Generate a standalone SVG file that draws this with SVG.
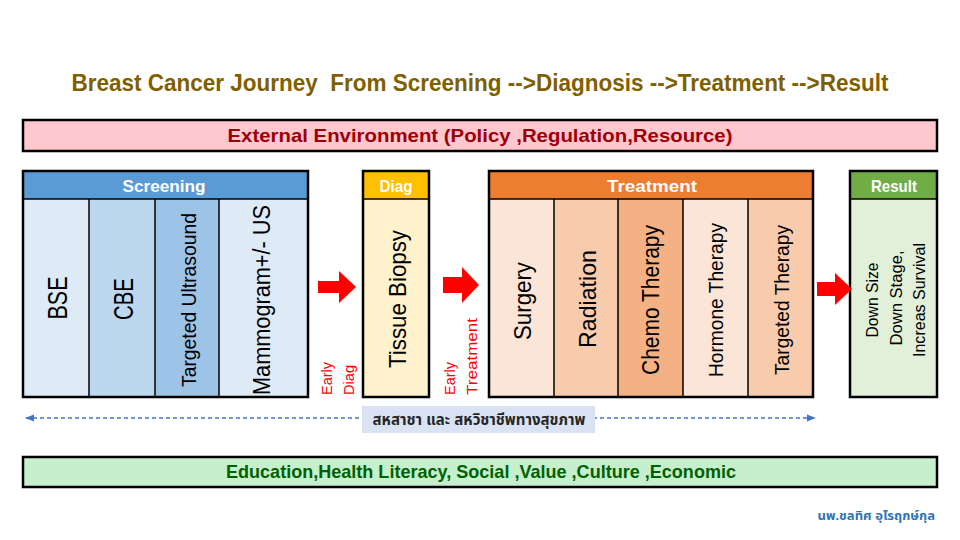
<svg xmlns="http://www.w3.org/2000/svg" width="960" height="540" viewBox="0 0 960 540">
<defs>
<style>
text{font-family:"Liberation Sans","Noto Sans","Noto Sans Thai",sans-serif;}
.box{stroke:#000;stroke-width:2.5;}
.div{stroke:#000;stroke-width:1.5;}
.hdr{fill:#fff;font-weight:bold;font-size:17px;text-anchor:middle;dominant-baseline:central;}
.rot{fill:#000;text-anchor:middle;dominant-baseline:central;}
.red{fill:#ff0000;font-size:14px;text-anchor:start;dominant-baseline:central;}
.arrow{fill:#ff0000;}
.dash{stroke:#4472c4;stroke-width:1.5;stroke-dasharray:4 3;fill:none;}
</style>
<marker id="ah" viewBox="0 0 10 10" refX="9" refY="5" markerWidth="6" markerHeight="6" orient="auto-start-reverse">
<path d="M0,1 L10,5 L0,9 Z" fill="#4472c4"/>
</marker>
</defs>
<rect width="960" height="540" fill="#fff"/>

<g id="title">
<text x="480" y="91" text-anchor="middle" font-size="23" font-weight="bold" fill="#7f6000" textLength="817" lengthAdjust="spacingAndGlyphs" style="white-space:pre">Breast Cancer Journey  From Screening --&gt;Diagnosis --&gt;Treatment --&gt;Result</text>
</g>

<g id="external">
<rect class="box" x="23" y="120" width="914" height="31" fill="#ffc7ce"/>
<text x="480" y="142" text-anchor="middle" font-size="19" font-weight="bold" fill="#9c0006" textLength="505" lengthAdjust="spacingAndGlyphs">External Environment (Policy ,Regulation,Resource)</text>
</g>

<g id="screening">
<rect x="23" y="199" width="66" height="198" fill="#deebf7"/>
<rect x="89" y="199" width="66" height="198" fill="#bdd7ee"/>
<rect x="155" y="199" width="64" height="198" fill="#9dc3e6"/>
<rect x="219" y="199" width="89" height="198" fill="#deebf7"/>
<rect x="23" y="171" width="285" height="28" fill="#5b9bd5"/>
<line class="div" x1="23" y1="199" x2="308" y2="199"/>
<line class="div" x1="89" y1="199" x2="89" y2="397"/>
<line class="div" x1="155" y1="199" x2="155" y2="397"/>
<line class="div" x1="219" y1="199" x2="219" y2="397"/>
<rect class="box" x="23" y="171" width="285" height="226" fill="none"/>
<text class="hdr" x="164" y="186" textLength="83" lengthAdjust="spacingAndGlyphs">Screening</text>
<text class="rot" font-size="28" transform="translate(57,298) rotate(-90)" textLength="43" lengthAdjust="spacingAndGlyphs">BSE</text>
<text class="rot" font-size="28" transform="translate(123,299) rotate(-90)" textLength="42" lengthAdjust="spacingAndGlyphs">CBE</text>
<text class="rot" font-size="21" transform="translate(188,300) rotate(-90)" textLength="174" lengthAdjust="spacingAndGlyphs">Targeted Ultrasound</text>
<text class="rot" font-size="23" transform="translate(262,300) rotate(-90)" textLength="190" lengthAdjust="spacingAndGlyphs">Mammogram+/- US</text>
</g>

<g id="diag">
<rect x="363" y="199" width="66" height="198" fill="#fff2cc"/>
<rect x="363" y="171" width="66" height="28" fill="#ffc000"/>
<line class="div" x1="363" y1="199" x2="429" y2="199"/>
<rect class="box" x="363" y="171" width="66" height="226" fill="none"/>
<text class="hdr" x="396" y="186" textLength="33" lengthAdjust="spacingAndGlyphs">Diag</text>
<text class="rot" font-size="24" transform="translate(397,299) rotate(-90)" textLength="138" lengthAdjust="spacingAndGlyphs">Tissue Biopsy</text>
</g>

<g id="treatment">
<rect x="489" y="199" width="65" height="198" fill="#fbe5d6"/>
<rect x="554" y="199" width="64" height="198" fill="#f8cbad"/>
<rect x="618" y="199" width="65" height="198" fill="#f4b183"/>
<rect x="683" y="199" width="65" height="198" fill="#fbe5d6"/>
<rect x="748" y="199" width="65" height="198" fill="#f8cbad"/>
<rect x="489" y="171" width="324" height="28" fill="#ed7d31"/>
<line class="div" x1="489" y1="199" x2="813" y2="199"/>
<line class="div" x1="554" y1="199" x2="554" y2="397"/>
<line class="div" x1="618" y1="199" x2="618" y2="397"/>
<line class="div" x1="683" y1="199" x2="683" y2="397"/>
<line class="div" x1="748" y1="199" x2="748" y2="397"/>
<rect class="box" x="489" y="171" width="324" height="226" fill="none"/>
<text class="hdr" x="652" y="186" textLength="90" lengthAdjust="spacingAndGlyphs">Treatment</text>
<text class="rot" font-size="24" transform="translate(522,301) rotate(-90)" textLength="78" lengthAdjust="spacingAndGlyphs">Surgery</text>
<text class="rot" font-size="24" transform="translate(587,299) rotate(-90)" textLength="98" lengthAdjust="spacingAndGlyphs">Radiation</text>
<text class="rot" font-size="23" transform="translate(651,300) rotate(-90)" textLength="150" lengthAdjust="spacingAndGlyphs">Chemo Therapy</text>
<text class="rot" font-size="20" transform="translate(716,300) rotate(-90)" textLength="154" lengthAdjust="spacingAndGlyphs">Hormone Therapy</text>
<text class="rot" font-size="21" transform="translate(781,300) rotate(-90)" textLength="150" lengthAdjust="spacingAndGlyphs">Targeted Therapy</text>
</g>

<g id="result">
<rect x="850" y="199" width="87" height="198" fill="#e2f0d9"/>
<rect x="850" y="171" width="87" height="28" fill="#70ad47"/>
<line class="div" x1="850" y1="199" x2="937" y2="199"/>
<rect class="box" x="850" y="171" width="87" height="226" fill="none"/>
<text class="hdr" x="894" y="186" textLength="46" lengthAdjust="spacingAndGlyphs">Result</text>
<text class="rot" font-size="17" transform="translate(872,300) rotate(-90)" textLength="75" lengthAdjust="spacingAndGlyphs">Down Size</text>
<text class="rot" font-size="17" transform="translate(896,298) rotate(-90)" textLength="95" lengthAdjust="spacingAndGlyphs">Down Stage,</text>
<text class="rot" font-size="17" transform="translate(919,300) rotate(-90)" textLength="114" lengthAdjust="spacingAndGlyphs">Increas Survival</text>
</g>

<g id="connectors">
<path class="arrow" d="M318,281 H339 V271 L356,287 L339,303 V293 H318 Z"/>
<path class="arrow" d="M443,277 H462 V267 L479,285 L462,303 V293 H443 Z"/>
<path class="arrow" d="M817,282 H835 V273 L852,289 L835,305 V296 H817 Z"/>
<text class="red" transform="translate(327,395) rotate(-90)" textLength="33" lengthAdjust="spacingAndGlyphs">Early</text>
<text class="red" transform="translate(349,395) rotate(-90)" textLength="30" lengthAdjust="spacingAndGlyphs">Diag</text>
<text class="red" transform="translate(450,395) rotate(-90)" textLength="33" lengthAdjust="spacingAndGlyphs">Early</text>
<text class="red" transform="translate(472,395) rotate(-90)" textLength="77" lengthAdjust="spacingAndGlyphs">Treatment</text>
<line class="dash" x1="26" y1="418" x2="815" y2="418" marker-start="url(#ah)" marker-end="url(#ah)"/>
</g>

<g id="team">
<rect x="362" y="406" width="233" height="27" fill="#dae3f3"/>
<text x="479" y="425" text-anchor="middle" font-size="15" font-weight="bold" fill="#262626">สหสาชา และ สหวิชาชีพทางสุขภาพ</text>
</g>

<g id="education">
<rect class="box" x="23" y="457" width="914" height="30" fill="#c6efce"/>
<text x="481" y="478" text-anchor="middle" font-size="19" font-weight="bold" fill="#006100" textLength="510" lengthAdjust="spacingAndGlyphs">Education,Health Literacy, Social ,Value ,Culture ,Economic</text>
</g>

<g id="author">
<text x="935" y="520" text-anchor="end" font-size="13" font-weight="bold" fill="#2e75b6">นพ.ชลทิศ อุไรฤกษ์กุล</text>
</g>
</svg>
